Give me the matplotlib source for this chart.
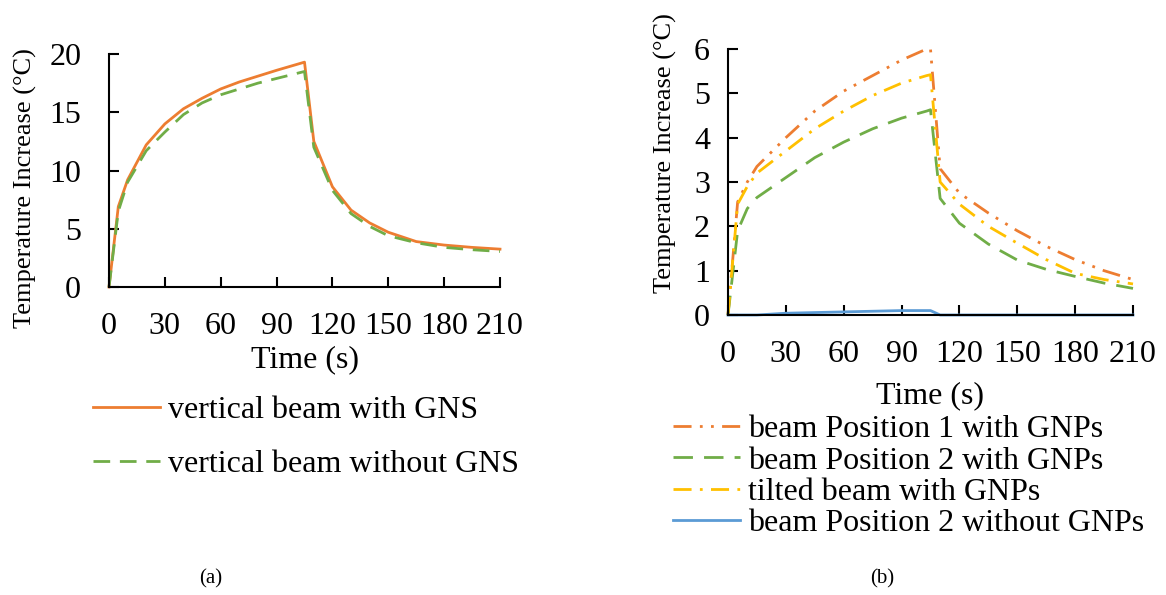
import matplotlib
matplotlib.use("Agg")
import matplotlib.pyplot as plt

plt.rcParams['font.family'] = ['Liberation Serif', 'DejaVu Serif']

# ---- data (a) ----
t_a = [0, 5, 10, 20, 30, 40, 50, 60, 70, 80, 90, 105, 110, 120, 130, 140, 150, 165, 180, 195, 210]
with_gns = [0, 6.9, 9.2, 12.2, 14.0, 15.3, 16.2, 17.0, 17.6, 18.1, 18.6, 19.3, 12.5, 8.6, 6.6, 5.5, 4.7, 3.9, 3.6, 3.4, 3.25]
without_gns = [0, 6.5, 9.0, 11.7, 13.3, 14.8, 15.8, 16.5, 17.0, 17.5, 17.9, 18.5, 12.0, 8.3, 6.3, 5.2, 4.4, 3.8, 3.4, 3.2, 3.05]

# ---- data (b) ----
t_b = [0, 5, 10, 15, 30, 45, 60, 75, 90, 103, 105, 110, 120, 135, 150, 165, 180, 195, 210]
pos1_gnp = [0, 2.55, 3.0, 3.35, 4.0, 4.6, 5.05, 5.4, 5.75, 6.0, 6.0, 3.3, 2.75, 2.3, 1.9, 1.55, 1.25, 1.0, 0.8]
pos2_gnp = [0, 1.9, 2.4, 2.65, 3.1, 3.55, 3.9, 4.2, 4.44, 4.6, 4.63, 2.63, 2.07, 1.6, 1.24, 1.03, 0.87, 0.72, 0.6]
tilted_gnp = [0, 2.5, 2.9, 3.2, 3.7, 4.2, 4.6, 4.95, 5.23, 5.4, 5.42, 3.0, 2.5, 2.0, 1.62, 1.25, 0.94, 0.8, 0.7]
t_blue = [0, 15, 30, 60, 90, 105, 110, 210]
pos2_no_gnp = [0, 0, 0.04, 0.07, 0.1, 0.1, 0.0, 0.0]

xticks = [0, 30, 60, 90, 120, 150, 180, 210]

ORANGE = '#ED7D31'
GREEN = '#70AD47'
YELLOW = '#FFC000'
BLUE = '#5B9BD5'

W, H = 1166, 595
fig = plt.figure(figsize=(W / 100, H / 100), dpi=100)

FS = 23
LW = 2.0


def fx(px):
    return px / W


def fy(py):
    return 1 - py / H


def style_axes(ax, xpad, ypad):
    for s in ['top', 'right']:
        ax.spines[s].set_visible(False)
    for s in ['left', 'bottom']:
        ax.spines[s].set_linewidth(1.5)
        ax.spines[s].set_color('black')
    ax.set_xlim(0, 210)
    ax.set_xticks(xticks)
    ax.tick_params(axis='both', direction='in', length=7, width=1.5, labelsize=FS, colors='black')
    ax.tick_params(axis='x', pad=xpad)
    ax.tick_params(axis='y', pad=ypad)


# ---- (a) ----
axa = fig.add_axes([fx(109), fy(287), fx(500) - fx(109), fy(54) - fy(287)])
axa.plot(t_a, with_gns, color=ORANGE, lw=LW, label='vertical beam with GNS', clip_on=False)
axa.plot(t_a, without_gns, color=GREEN, lw=LW, dashes=(6, 3.5), label='vertical beam without GNS', clip_on=False)
axa.set_ylim(0, 20)
axa.set_yticks([0, 5, 10, 15, 20])
style_axes(axa, 18, 20)
fig.text(fx(305), fy(360), 'Time (s)', fontsize=FS, ha='center', va='center')
fig.text(fx(25), fy(188), 'Temperature Increase (°C)', fontsize=19, rotation=90, ha='center', va='center')
axa.legend(loc='upper left', bbox_to_anchor=(fx(93), fy(396)), bbox_transform=fig.transFigure,
           frameon=False, fontsize=FS, handlelength=2.1, handletextpad=0.25, borderpad=0,
           borderaxespad=0, labelspacing=0.75)

# ---- (b) ----
axb = fig.add_axes([fx(728), fy(315), fx(1133) - fx(728), fy(49) - fy(315)])
axb.plot(t_b, pos1_gnp, color=ORANGE, lw=LW, dashes=(6.5, 3, 1, 3, 1, 3), label='beam Position 1 with GNPs', clip_on=False)
axb.plot(t_b, pos2_gnp, color=GREEN, lw=LW, dashes=(7, 4), label='beam Position 2 with GNPs', clip_on=False)
axb.plot(t_b, tilted_gnp, color=YELLOW, lw=LW, dashes=(6.5, 3, 1, 3), label='tilted beam with GNPs', clip_on=False)
axb.plot(t_blue, pos2_no_gnp, color=BLUE, lw=LW, label='beam Position 2 without GNPs', clip_on=False)
axb.set_ylim(0, 6)
axb.set_yticks([0, 1, 2, 3, 4, 5, 6])
style_axes(axb, 18, 13)
fig.text(fx(930), fy(396), 'Time (s)', fontsize=FS, ha='center', va='center')
fig.text(fx(665), fy(153), 'Temperature Increase (°C)', fontsize=19, rotation=90, ha='center', va='center')
axb.legend(loc='upper left', bbox_to_anchor=(fx(673), fy(415)), bbox_transform=fig.transFigure,
           frameon=False, fontsize=FS, handlelength=2.1, handletextpad=0.25, borderpad=0,
           borderaxespad=0, labelspacing=0.06)

fig.text(fx(211), fy(579), '(a)', fontsize=15, ha='center', va='center')
fig.text(fx(882), fy(579), '(b)', fontsize=15, ha='center', va='center')

fig.savefig('out.png', dpi=100)
